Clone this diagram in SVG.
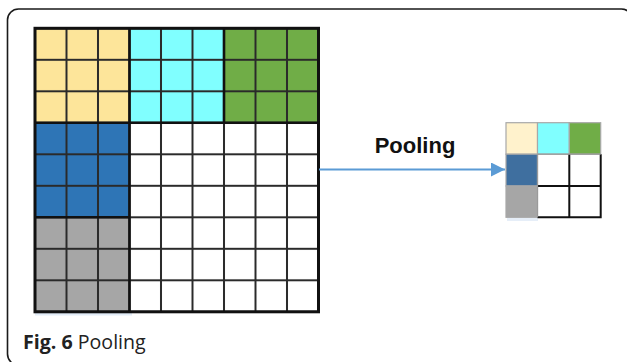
<svg xmlns="http://www.w3.org/2000/svg" width="627" height="362" viewBox="0 0 627 362">
  <style>
    .frame { fill: none; stroke: #1a1a1a; stroke-width: 1.6; }
    .outer { fill: none; stroke: #111; stroke-width: 3; }
    .block { fill: none; stroke: #111; stroke-width: 2.6; }
    .y { fill: #fde59a; }
    .c { fill: #80ffff; }
    .g { fill: #70ad47; }
    .b { fill: #2e75b6; }
    .k { fill: #a6a6a6; }
    .w { fill: #ffffff; }
    .sc { stroke: #a8a8a8; stroke-width: 1.2; }
    .sl { stroke: #111; stroke-width: 2; fill: none; }
    .label { font-family: "Liberation Sans", Arial, sans-serif; font-weight: bold; font-size: 22px; fill: #111; }
    .cap { font-family: "Open Sans", "Liberation Sans", sans-serif; font-size: 19.6px; fill: #222; }
  </style>
  <defs>
    <pattern id="cellgrid" x="35" y="28.3" width="31.5" height="31.5" patternUnits="userSpaceOnUse">
      <rect width="31.5" height="31.5" fill="none" stroke="#2a2a2a" stroke-width="2"/>
    </pattern>
    <marker id="head" viewBox="0 0 10 10" refX="10" refY="5" markerWidth="8" markerHeight="7" markerUnits="strokeWidth" orient="auto">
      <path d="M0,0 L10,5 L0,10 Z" fill="#5b9bd5"/>
    </marker>
  </defs>

  <!-- panel frame (extends past right and bottom edges) -->
  <rect class="frame" x="7.5" y="9" width="625" height="356" rx="11"/>

  <!-- input feature map: 9x9 grid, 3x3 blocks -->
  <g id="input-grid">
    <line x1="35" y1="314" x2="132" y2="314" stroke="#e3edf8" stroke-width="3"/>
    <rect class="w" x="35" y="28.3" width="283.5" height="283.5"/>
    <rect class="y" x="35" y="28.3" width="94.5" height="94.5"/>
    <rect class="c" x="129.5" y="28.3" width="94.5" height="94.5"/>
    <rect class="g" x="224" y="28.3" width="94.5" height="94.5"/>
    <rect class="b" x="35" y="122.8" width="94.5" height="94.5"/>
    <rect class="k" x="35" y="217.3" width="94.5" height="94.5"/>
    <rect x="35" y="28.3" width="283.5" height="283.5" fill="url(#cellgrid)"/>
    <path class="block" d="M129.5,28.3 V311.8 M35,122.8 H318.5 M224,28.3 V122.8 M35,217.3 H129.5"/>
    <rect class="outer" x="35" y="28.3" width="283.5" height="283.5"/>
  </g>

  <!-- connector -->
  <g id="connectors">
    <line x1="319" y1="169.5" x2="505" y2="169.5" stroke="#5b9bd5" stroke-width="2" marker-end="url(#head)"/>
  </g>

  <g id="pooling-label">
    <text class="label" x="415" y="153" text-anchor="middle">Pooling</text>
  </g>

  <!-- pooled output: 3x3 grid -->
  <g id="output-grid">
    <line x1="507" y1="219.5" x2="538" y2="219.5" stroke="#e6eef8" stroke-width="3"/>
    <rect class="w" x="506" y="122.7" width="94.7" height="94.6"/>
    <rect class="sc" x="506" y="122.7" width="31.5" height="31.5" fill="#fff2cc"/>
    <rect class="c sc" x="537.5" y="122.7" width="31.8" height="31.5"/>
    <rect class="g sc" x="569.3" y="122.7" width="31.4" height="31.5"/>
    <rect class="sc" x="506" y="154.2" width="31.5" height="31.8" fill="#3f6f9f"/>
    <rect class="k sc" x="506" y="186" width="31.5" height="31.3"/>
    <path class="sl" d="M569.3,154.2 V217.3 M537.5,186 H600.7 M600.7,154.2 V217.3 M537.5,217.3 H601.7"/>
    <path d="M537.5,154.2 H600.7 M537.5,154.2 V217.3" stroke="#9a9a9a" stroke-width="1.2" fill="none"/>
  </g>

  <g id="caption">
    <text class="cap" x="23" y="349"><tspan font-weight="bold">Fig. 6</tspan> Pooling</text>
  </g>
</svg>
